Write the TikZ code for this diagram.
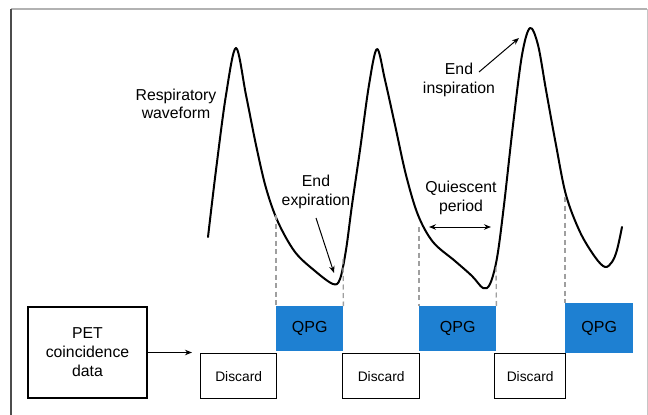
\documentclass[tikz,border=0pt]{standalone}
\usepackage{fontspec}
\setmainfont{Liberation Sans}
\usetikzlibrary{arrows.meta}
\definecolor{qpgblue}{RGB}{30,128,210}
\begin{document}
\begin{tikzpicture}[x=1pt,y=-1pt,
  lbl/.style={font=\fontsize{15.8}{18.5}\selectfont, align=center, inner sep=0pt},
  qpgbox/.style={fill=qpgblue, draw=none, font=\fontsize{16}{18}\selectfont, inner sep=0pt, anchor=north west},
  discbox/.style={draw=black, line width=1.3pt, font=\fontsize{13.8}{16}\selectfont, inner sep=0pt, anchor=north west},
  petbox/.style={draw=black, line width=1.3pt, font=\fontsize{15.8}{19}\selectfont, align=center, inner sep=0pt},
  guide/.style={draw=gray!75, line width=1.3pt, dash pattern=on 5pt off 3.5pt},
  ptr/.style={-{Stealth[length=7pt,width=5.5pt]}, line width=1pt},
  wave/.style={line width=2pt, line join=round, line cap=round}
]
\useasboundingbox (0,0) rectangle (648,415);
% frame
\draw[gray!60, line width=1.6pt] (11,9) -- (647,9);
\draw[black!70, line width=1.2pt] (11,9) -- (11,415);
\draw[gray!45, line width=1pt] (647,9) -- (647,415);

% waveform
\draw[wave] plot[smooth, tension=0.55] coordinates {
 (208,237) (216,170) (226,95) (236,48) (246,95) (256,145) (266,188) (278,222)
 (295,252) (315,271) (333,284) (340,279) (346,250) (352,205) (360,150) (369,85)
 (377,49) (385,80) (395,125) (406,175) (418,215) (433,242) (455,261) (472,276)
 (483,288) (490,284) (497,258) (504,205) (513,125) (522,55) (530,28) (538,45)
 (546,90) (556,145) (566,195) (580,232) (595,257) (605,267) (612,262) (617,250) (622,227)};

% boxes
\node[petbox, minimum width=119pt, minimum height=91pt] (pet) at (87.5,352.5) {PET\\coincidence\\data};
\node[discbox, minimum width=76pt, minimum height=45pt] (d1) at (200,353) {Discard};
\node[discbox, minimum width=77pt, minimum height=45pt] (d2) at (342,353) {Discard};
\node[discbox, minimum width=71pt, minimum height=45pt] (d3) at (494,353) {Discard};
\node[qpgbox, minimum width=67pt, minimum height=45pt] (q1) at (276,306) {QPG};
\node[qpgbox, minimum width=77pt, minimum height=45pt] (q2) at (419,306) {QPG};
\node[qpgbox, minimum width=68pt, minimum height=50pt] (q3) at (565,303) {QPG};

\coordinate (arrend) at (192,352.5);
\draw[ptr] (pet.east) -- (arrend);

% guides
\coordinate (g1) at (276,215);
\coordinate (g2) at (343,259);
\coordinate (g3) at (419,227);
\coordinate (g4) at (496,267);
\coordinate (g5) at (565,197);
\draw[guide] (g1) -- (q1.north west);
\draw[guide] (g2) -- (q1.north east);
\draw[guide] (g3) -- (q2.north west);
\draw[guide] (g4) -- (q2.north east);
\draw[guide] (g5) -- (q3.north west);

% labels
\node[lbl] (resp) at (176,104) {Respiratory\\waveform};
\node[lbl] (endinsp) at (459,80) {End\\inspiration};
\node[lbl] (endexp) at (316,192) {End\\expiration};
\node[lbl] (quies) at (461,198) {Quiescent\\period};

\coordinate (ei1) at (479,72);
\coordinate (ei2) at (519,38);
\draw[ptr] (ei1) -- (ei2);
\coordinate (ee1) at (316,218);
\coordinate (ee2) at (334,273);
\draw[ptr] (ee1) -- (ee2);
\coordinate (qp1) at (429,227);
\coordinate (qp2) at (491,227);
\draw[{Stealth[length=7pt,width=5.5pt]}-{Stealth[length=7pt,width=5.5pt]}, line width=1pt] (qp1) -- (qp2);
\end{tikzpicture}
\end{document}
